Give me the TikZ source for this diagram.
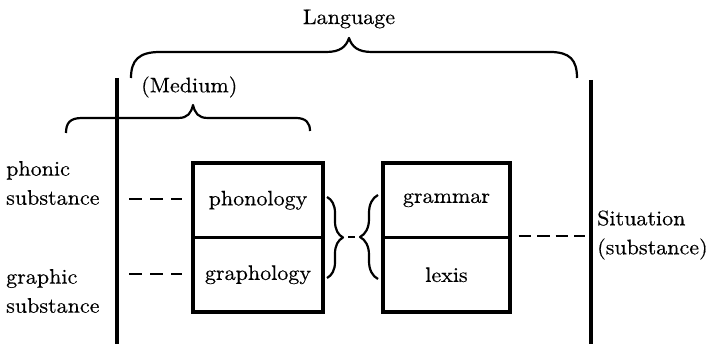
\documentclass[tikz,border=0pt]{standalone}
\usepackage{fontspec}
\setmainfont{lmroman10-regular.otf}[FakeStretch=1.05, FakeBold=0.4]
\usetikzlibrary{decorations.pathreplacing}
\begin{document}
\begin{tikzpicture}[x=1pt,y=-1pt,
  font=\fontsize{21}{29}\selectfont,
  rule/.style={line width=3.2pt},
  curly/.style={line width=2.2pt, line join=round},
  boxpart/.style={draw, line width=3.4pt, minimum height=74.5pt, inner sep=0pt},
  dashline/.style={line width=2.8pt},
  label/.style={inner sep=0pt, align=left, anchor=west}]
\useasboundingbox (0,0) rectangle (715,344);

% titles
\node[inner sep=0pt] (lang) at (349,19) {Language};
\node[label] (medium) at (141,87) {(Medium)};

% big brace (Language)
\draw[curly] (131,78) .. controls (131,60) and (139,52) .. (160,52) -- (326,52)
  .. controls (340,52) and (346,47) .. (349,38)
  .. controls (352,47) and (358,52) .. (372,52) -- (550,52)
  .. controls (570,52) and (577,60) .. (577,78);

% medium brace
\draw[curly] (66,133) .. controls (66,123) and (70,118) .. (82,118) -- (178,118)
  .. controls (188,118) and (191,113) .. (193,105)
  .. controls (195,113) and (198,118) .. (208,118) -- (296,118)
  .. controls (306,118) and (310,123) .. (310,131);

% vertical rules
\coordinate (l1) at (117,78);  \coordinate (l2) at (117,344);
\coordinate (r1) at (591,80);  \coordinate (r2) at (591,344);
\draw[rule] (l1) -- (l2);
\draw[rule] (r1) -- (r2);

% boxes
\node[boxpart, minimum width=130pt] (phon)  at (258,200.25) {phonology};
\node[boxpart, minimum width=130pt] (graph) at (258,274.75) {graphology};
\node[boxpart, minimum width=127pt] (gram)  at (446.5,200.25) {grammar};
\node[boxpart, minimum width=127pt] (lex)   at (446.5,274.75) {lexis};

% side labels
\node[label] (phonic)  at (6,183) {phonic\\substance};
\node[label] (graphic) at (6,291) {graphic\\substance};
\node[label] (sit)     at (597,235) {Situation\\(substance)};

% dashed links
\coordinate (pd) at (129,199);
\coordinate (gd) at (129,274);
\coordinate (sd) at (585,236);
\draw[dashline, dash pattern=on 13pt off 8pt, shorten >=9pt] (pd) -- (pd -| phon.west);
\draw[dashline, dash pattern=on 13pt off 8pt, shorten >=9pt] (gd) -- (gd -| graph.west);
\draw[dashline, dash pattern=on 12.5pt off 6pt, shorten <=7pt] (sd -| gram.east) -- (sd);

% middle braces
\coordinate (b1) at (343,237);
\coordinate (b2) at (360,237);
\draw[curly, decorate, decoration={brace, amplitude=16pt}] (327,197) -- (327,278);
\draw[curly, decorate, decoration={brace, amplitude=18pt}] (378,279) -- (378,195);
\draw[line width=2.2pt, shorten <=5pt, shorten >=5pt] (b1) -- (b2);
\end{tikzpicture}
\end{document}
